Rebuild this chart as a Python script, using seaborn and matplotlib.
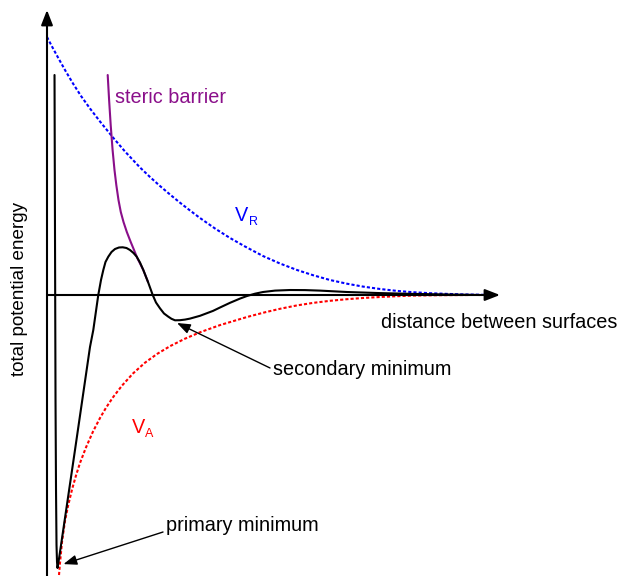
import matplotlib
matplotlib.use("Agg")
import matplotlib.pyplot as plt
import numpy as np
import pandas as pd
import seaborn as sns

# Repulsive double-layer potential V_R
vr_x = [0.0, 0.110, 0.243, 0.397, 0.574, 0.751, 0.949, 1.170, 1.457, 1.722,
        2.053, 2.274, 2.494, 2.715, 2.936, 3.157, 3.377, 3.709, 4.040, 4.371,
        4.768, 5.143, 5.519, 5.872, 6.247, 6.623, 6.976, 7.351, 7.726, 8.079,
        8.455, 8.830, 9.183, 9.559, 9.779]
vr_y = [9.053, 8.719, 8.333, 7.895, 7.421, 6.982, 6.544, 6.088, 5.526, 5.035,
        4.474, 4.140, 3.825, 3.526, 3.239, 2.965, 2.702, 2.333, 2.000, 1.702,
        1.368, 1.105, 0.877, 0.695, 0.526, 0.396, 0.295, 0.211, 0.144, 0.098,
        0.063, 0.039, 0.021, 0.009, 0.0]

# Attractive van der Waals potential V_A
va_x = [0.265, 0.287, 0.331, 0.397, 0.464, 0.552, 0.640, 0.728, 0.861, 1.015,
        1.170, 1.302, 1.457, 1.656, 1.898, 2.163, 2.428, 2.715, 3.046, 3.377,
        3.819, 4.415, 4.812, 5.143, 5.519, 5.872, 6.247, 6.623, 6.976, 7.351,
        7.726, 8.079, 8.675, 9.338]
va_y = [-9.825, -9.404, -8.667, -7.930, -7.404, -6.825, -6.333, -5.895, -5.347, -4.793,
        -4.316, -3.958, -3.589, -3.179, -2.754, -2.375, -2.070, -1.796, -1.533, -1.309,
        -1.056, -0.772, -0.607, -0.484, -0.365, -0.277, -0.204, -0.147, -0.105, -0.070,
        -0.042, -0.021, -0.007, 0.0]

# Steric barrier
st_x = [1.340, 1.371, 1.406, 1.448, 1.490, 1.530, 1.578, 1.629, 1.689, 1.762,
        1.848, 1.921, 1.993, 2.126, 2.230]
st_y = [7.719, 6.842, 5.965, 5.088, 4.386, 3.860, 3.333, 2.912, 2.561, 2.211,
        1.860, 1.579, 1.298, 0.877, 0.456]

# Total potential energy
tot_x = [0.166, 0.177, 0.188, 0.199, 0.210, 0.221, 0.232, 0.254, 0.287, 0.618,
         0.949, 1.022, 1.132, 1.192, 1.243, 1.291, 1.353, 1.424, 1.501, 1.589,
         1.671, 1.755, 1.832, 1.909, 1.980, 2.053, 2.126, 2.230, 2.334, 2.406,
         2.494, 2.583, 2.678, 2.748, 2.826, 2.936, 3.046, 3.157, 3.377, 3.664,
         3.819, 4.040, 4.260, 4.415, 4.592, 4.768, 5.033, 5.364, 5.695, 6.026,
         6.623, 7.351, 8.079, 8.830, 9.559]
tot_y = [7.719, 1.930, -3.684, -6.842, -8.772, -9.368, -9.579, -9.368, -9.018, -5.439,
         -1.825, -1.228, 0.0, 0.526, 0.877, 1.158, 1.344, 1.509, 1.614, 1.667,
         1.674, 1.649, 1.579, 1.474, 1.344, 1.140, 0.877, 0.456, 0.0, -0.263,
         -0.467, -0.649, -0.761, -0.835, -0.888, -0.884, -0.863, -0.828, -0.730, -0.558,
         -0.439, -0.274, -0.126, -0.035, 0.046, 0.105, 0.154, 0.175, 0.172, 0.154,
         0.105, 0.067, 0.039, 0.018, 0.0]

X_END, Y_END = 10.0, 10.0

sns.set_theme(style="white")
plt.rcParams["font.family"] = ["Liberation Sans", "DejaVu Sans"]
plt.rcParams["text.color"] = "black"

fig = plt.figure(figsize=(6.19, 5.76), dpi=100)
ax = fig.add_axes([0, 0, 1, 1])
ax.set_xlim(-47 / 45.3, (619 - 47) / 45.3)
ax.set_ylim((295 - 576) / 28.5, 295 / 28.5)
ax.axis("off")

dots = (0, (1.5, 1.0))
sns.lineplot(x=vr_x, y=vr_y, ax=ax, color="#0000ff", lw=1.5, sort=False,
             estimator=None, linestyle=dots)
sns.lineplot(x=va_x, y=va_y, ax=ax, color="#ff0000", lw=1.5, sort=False,
             estimator=None, linestyle=dots)
sns.lineplot(x=st_x, y=st_y, ax=ax, color="#8a0f8a", lw=1.5, sort=False,
             estimator=None)
sns.lineplot(x=tot_x, y=tot_y, ax=ax, color="black", lw=1.5, sort=False,
             estimator=None)

# Axes drawn as arrows
ax_arrow = dict(arrowstyle="-|>,head_length=0.9,head_width=0.35", lw=1.5,
                color="black", shrinkA=0, shrinkB=0, mutation_scale=10)
ax.annotate("", xy=(0, Y_END), xytext=(0, ax.get_ylim()[0]), arrowprops=ax_arrow)
ax.annotate("", xy=(X_END, 0), xytext=(0, 0), arrowprops=ax_arrow)

fs = 14.3
ax.text(1.501, 6.737, "steric barrier", color="#8a0f8a", fontsize=fs, va="baseline")
ax.text(4.15, 2.596, "V", color="#0000ff", fontsize=fs, va="baseline")
ax.text(4.466, 2.456, "R", color="#0000ff", fontsize=9, va="baseline")
ax.text(1.865, -4.842, "V", color="#ff0000", fontsize=fs, va="baseline")
ax.text(2.163, -4.982, "A", color="#ff0000", fontsize=9, va="baseline")
ax.text(7.384, -1.158, "distance between surfaces", fontsize=fs, va="baseline")
ax.text(-0.607, 0.21, "total potential energy", fontsize=13.6, rotation=90,
        ha="center", va="center")

lbl_arrow = dict(arrowstyle="-|>,head_length=0.8,head_width=0.3", lw=1.0,
                 color="black", shrinkA=0, shrinkB=0, mutation_scale=10)
ax.annotate("", xy=(2.870, -0.982), xytext=(4.923, -2.561), arrowprops=lbl_arrow)
ax.text(4.989, -2.807, "secondary minimum", fontsize=fs, va="baseline")
ax.annotate("", xy=(0.364, -9.442), xytext=(2.561, -8.316), arrowprops=lbl_arrow)
ax.text(2.616, -8.281, "primary minimum", fontsize=fs, va="baseline")

fig.savefig("out.png", dpi=100)
